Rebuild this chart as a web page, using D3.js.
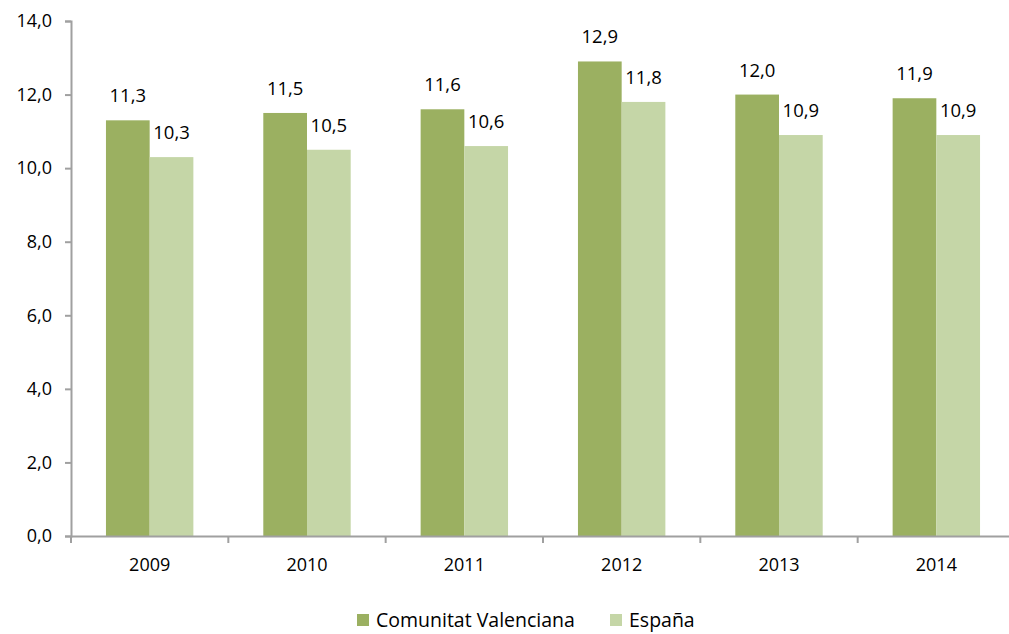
<!DOCTYPE html>
<html>
<head>
<meta charset="utf-8">
<script src="https://cdn.jsdelivr.net/npm/d3@7"></script>
<style>
  body { margin: 0; background: #fff; }
  text { font-family: "Open Sans", "Noto Sans", sans-serif; fill: #000; }
</style>
</head>
<body>
<div id="chart"></div>
<script>
// Datos
const years = ["2009", "2010", "2011", "2012", "2013", "2014"];
const valenciana = [11.3, 11.5, 11.6, 12.9, 12.0, 11.9];
const espana = [10.3, 10.5, 10.6, 11.8, 10.9, 10.9];
const seriesNames = ["Comunitat Valenciana", "España"];
const seriesColors = ["#9bb061", "#c5d6a7"];
const yTicks = [0, 2, 4, 6, 8, 10, 12, 14];

const W = 1009, H = 634;
const margin = {top: 21, right: -6, bottom: 98, left: 71};

const svg = d3.select("#chart").append("svg")
    .attr("width", W)
    .attr("height", H);

const x = d3.scaleBand()
    .domain(years)
    .range([margin.left, W - margin.right]);

const y = d3.scaleLinear()
    .domain([0, 14])
    .range([H - margin.bottom, margin.top]);

const inner = d3.scaleBand()
    .domain([0, 1])
    .range([0, x.bandwidth()])
    .paddingOuter(0.8)
    .paddingInner(0);

const fmt = v => d3.format(".1f")(v).replace(".", ",");

// Barras
const series = [valenciana, espana];
series.forEach((vals, s) => {
    svg.selectAll(".bar" + s)
        .data(vals)
        .enter()
        .append("rect")
        .attr("x", (d, i) => x(years[i]) + inner(s))
        .attr("y", d => y(d))
        .attr("width", inner.bandwidth())
        .attr("height", d => y(0) - y(d))
        .attr("fill", seriesColors[s]);

    svg.selectAll(".lab" + s)
        .data(vals)
        .enter()
        .append("text")
        .attr("x", (d, i) => x(years[i]) + inner(s) + inner.bandwidth() / 2)
        .attr("y", d => y(d) - 18)
        .attr("text-anchor", "middle")
        .style("font-size", "18.5px")
        .text(fmt);
});

// Eje Y
const axisColor = "#a0a0a0";
const yAxis = svg.append("g")
    .attr("transform", "translate(" + margin.left + ",0)")
    .call(d3.axisLeft(y).tickValues(yTicks).tickSize(6).tickPadding(13).tickFormat(fmt));
yAxis.select(".domain").attr("stroke", axisColor).attr("stroke-width", 2);
yAxis.selectAll(".tick line").attr("stroke", axisColor).attr("stroke-width", 2);
yAxis.selectAll(".tick text").style("font-size", "18px").attr("fill", "#000");

// Eje X
const xAxis = svg.append("g")
    .attr("transform", "translate(0," + y(0) + ")")
    .call(d3.axisBottom(x).tickSize(0).tickPadding(22));
xAxis.select(".domain").attr("stroke", axisColor).attr("stroke-width", 2);
xAxis.selectAll(".tick text").style("font-size", "18px").attr("fill", "#000");
xAxis.selectAll(".sep")
    .data(d3.range(years.length + 1))
    .enter()
    .append("line")
    .attr("x1", i => margin.left + i * x.step())
    .attr("x2", i => margin.left + i * x.step())
    .attr("y1", 0)
    .attr("y2", 7)
    .attr("stroke", axisColor)
    .attr("stroke-width", 2);

// Leyenda
const legend = svg.append("g").attr("transform", "translate(357,620)");
const legX = [0, 253];
seriesNames.forEach((name, i) => {
    legend.append("rect")
        .attr("x", legX[i])
        .attr("y", -6)
        .attr("width", 12)
        .attr("height", 12)
        .attr("fill", seriesColors[i]);
    legend.append("text")
        .attr("x", legX[i] + 19)
        .attr("y", 0)
        .attr("dy", "0.35em")
        .style("font-size", "19.5px")
        .text(name);
});
</script>
</body>
</html>
